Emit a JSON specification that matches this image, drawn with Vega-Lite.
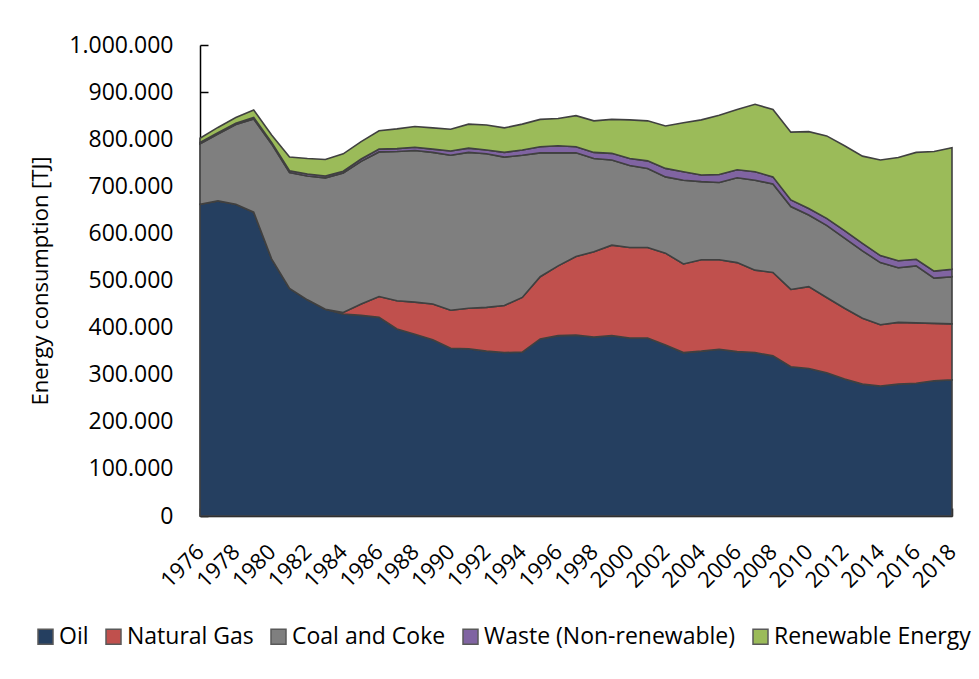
{
  "$schema": "https://vega.github.io/schema/vega-lite/v6.json",
  "width": 752,
  "height": 471,
  "autosize": {"type": "none"},
  "padding": {"left": 200, "top": 45, "right": 27, "bottom": 163},
  "background": "white",
  "config": {
    "locale": {"number": {"decimal": ",", "thousands": ".", "grouping": [3], "currency": ["", " €"]}},
    "font": "Open Sans",
    "view": {"stroke": null},
    "axis": {"grid": false, "domainColor": "black", "domainWidth": 1.5, "tickColor": "black", "tickWidth": 1.5, "labelColor": "black", "titleColor": "black", "labelFont": "Open Sans", "titleFont": "Open Sans"}
  },
  "datasets": {
    "energy": [
      {"year":1976,"source":"Oil","tj":662000},{"year":1976,"source":"Natural Gas","tj":0},{"year":1976,"source":"Coal and Coke","tj":128000},{"year":1976,"source":"Waste (Non-renewable)","tj":3000},{"year":1976,"source":"Renewable Energy","tj":9000},
      {"year":1977,"source":"Oil","tj":669000},{"year":1977,"source":"Natural Gas","tj":0},{"year":1977,"source":"Coal and Coke","tj":142000},{"year":1977,"source":"Waste (Non-renewable)","tj":3000},{"year":1977,"source":"Renewable Energy","tj":11000},
      {"year":1978,"source":"Oil","tj":662000},{"year":1978,"source":"Natural Gas","tj":0},{"year":1978,"source":"Coal and Coke","tj":169000},{"year":1978,"source":"Waste (Non-renewable)","tj":3000},{"year":1978,"source":"Renewable Energy","tj":12000},
      {"year":1979,"source":"Oil","tj":645000},{"year":1979,"source":"Natural Gas","tj":0},{"year":1979,"source":"Coal and Coke","tj":198000},{"year":1979,"source":"Waste (Non-renewable)","tj":3000},{"year":1979,"source":"Renewable Energy","tj":16000},
      {"year":1980,"source":"Oil","tj":546000},{"year":1980,"source":"Natural Gas","tj":0},{"year":1980,"source":"Coal and Coke","tj":244000},{"year":1980,"source":"Waste (Non-renewable)","tj":3000},{"year":1980,"source":"Renewable Energy","tj":16000},
      {"year":1981,"source":"Oil","tj":483000},{"year":1981,"source":"Natural Gas","tj":0},{"year":1981,"source":"Coal and Coke","tj":246000},{"year":1981,"source":"Waste (Non-renewable)","tj":4000},{"year":1981,"source":"Renewable Energy","tj":29000},
      {"year":1982,"source":"Oil","tj":459000},{"year":1982,"source":"Natural Gas","tj":0},{"year":1982,"source":"Coal and Coke","tj":263000},{"year":1982,"source":"Waste (Non-renewable)","tj":4000},{"year":1982,"source":"Renewable Energy","tj":33000},
      {"year":1983,"source":"Oil","tj":439000},{"year":1983,"source":"Natural Gas","tj":0},{"year":1983,"source":"Coal and Coke","tj":279000},{"year":1983,"source":"Waste (Non-renewable)","tj":4000},{"year":1983,"source":"Renewable Energy","tj":35000},
      {"year":1984,"source":"Oil","tj":429000},{"year":1984,"source":"Natural Gas","tj":3000},{"year":1984,"source":"Coal and Coke","tj":296000},{"year":1984,"source":"Waste (Non-renewable)","tj":4000},{"year":1984,"source":"Renewable Energy","tj":37000},
      {"year":1985,"source":"Oil","tj":426000},{"year":1985,"source":"Natural Gas","tj":24000},{"year":1985,"source":"Coal and Coke","tj":303000},{"year":1985,"source":"Waste (Non-renewable)","tj":5000},{"year":1985,"source":"Renewable Energy","tj":37000},
      {"year":1986,"source":"Oil","tj":422000},{"year":1986,"source":"Natural Gas","tj":44000},{"year":1986,"source":"Coal and Coke","tj":307000},{"year":1986,"source":"Waste (Non-renewable)","tj":6000},{"year":1986,"source":"Renewable Energy","tj":39000},
      {"year":1987,"source":"Oil","tj":397000},{"year":1987,"source":"Natural Gas","tj":60000},{"year":1987,"source":"Coal and Coke","tj":317000},{"year":1987,"source":"Waste (Non-renewable)","tj":6000},{"year":1987,"source":"Renewable Energy","tj":42000},
      {"year":1988,"source":"Oil","tj":386000},{"year":1988,"source":"Natural Gas","tj":68000},{"year":1988,"source":"Coal and Coke","tj":322000},{"year":1988,"source":"Waste (Non-renewable)","tj":7000},{"year":1988,"source":"Renewable Energy","tj":44000},
      {"year":1989,"source":"Oil","tj":374000},{"year":1989,"source":"Natural Gas","tj":76000},{"year":1989,"source":"Coal and Coke","tj":322000},{"year":1989,"source":"Waste (Non-renewable)","tj":7000},{"year":1989,"source":"Renewable Energy","tj":45000},
      {"year":1990,"source":"Oil","tj":356000},{"year":1990,"source":"Natural Gas","tj":81000},{"year":1990,"source":"Coal and Coke","tj":329000},{"year":1990,"source":"Waste (Non-renewable)","tj":9000},{"year":1990,"source":"Renewable Energy","tj":46000},
      {"year":1991,"source":"Oil","tj":355000},{"year":1991,"source":"Natural Gas","tj":86000},{"year":1991,"source":"Coal and Coke","tj":331000},{"year":1991,"source":"Waste (Non-renewable)","tj":9000},{"year":1991,"source":"Renewable Energy","tj":51000},
      {"year":1992,"source":"Oil","tj":350000},{"year":1992,"source":"Natural Gas","tj":93000},{"year":1992,"source":"Coal and Coke","tj":326000},{"year":1992,"source":"Waste (Non-renewable)","tj":8000},{"year":1992,"source":"Renewable Energy","tj":53000},
      {"year":1993,"source":"Oil","tj":347000},{"year":1993,"source":"Natural Gas","tj":100000},{"year":1993,"source":"Coal and Coke","tj":315000},{"year":1993,"source":"Waste (Non-renewable)","tj":10000},{"year":1993,"source":"Renewable Energy","tj":52000},
      {"year":1994,"source":"Oil","tj":348000},{"year":1994,"source":"Natural Gas","tj":116000},{"year":1994,"source":"Coal and Coke","tj":302000},{"year":1994,"source":"Waste (Non-renewable)","tj":11000},{"year":1994,"source":"Renewable Energy","tj":55000},
      {"year":1995,"source":"Oil","tj":376000},{"year":1995,"source":"Natural Gas","tj":132000},{"year":1995,"source":"Coal and Coke","tj":263000},{"year":1995,"source":"Waste (Non-renewable)","tj":13000},{"year":1995,"source":"Renewable Energy","tj":58000},
      {"year":1996,"source":"Oil","tj":383000},{"year":1996,"source":"Natural Gas","tj":148000},{"year":1996,"source":"Coal and Coke","tj":240000},{"year":1996,"source":"Waste (Non-renewable)","tj":15000},{"year":1996,"source":"Renewable Energy","tj":58000},
      {"year":1997,"source":"Oil","tj":384000},{"year":1997,"source":"Natural Gas","tj":167000},{"year":1997,"source":"Coal and Coke","tj":220000},{"year":1997,"source":"Waste (Non-renewable)","tj":13000},{"year":1997,"source":"Renewable Energy","tj":66000},
      {"year":1998,"source":"Oil","tj":380000},{"year":1998,"source":"Natural Gas","tj":181000},{"year":1998,"source":"Coal and Coke","tj":198000},{"year":1998,"source":"Waste (Non-renewable)","tj":13000},{"year":1998,"source":"Renewable Energy","tj":67000},
      {"year":1999,"source":"Oil","tj":383000},{"year":1999,"source":"Natural Gas","tj":192000},{"year":1999,"source":"Coal and Coke","tj":181000},{"year":1999,"source":"Waste (Non-renewable)","tj":14000},{"year":1999,"source":"Renewable Energy","tj":72000},
      {"year":2000,"source":"Oil","tj":378000},{"year":2000,"source":"Natural Gas","tj":192000},{"year":2000,"source":"Coal and Coke","tj":174000},{"year":2000,"source":"Waste (Non-renewable)","tj":15000},{"year":2000,"source":"Renewable Energy","tj":82000},
      {"year":2001,"source":"Oil","tj":378000},{"year":2001,"source":"Natural Gas","tj":192000},{"year":2001,"source":"Coal and Coke","tj":168000},{"year":2001,"source":"Waste (Non-renewable)","tj":16000},{"year":2001,"source":"Renewable Energy","tj":85000},
      {"year":2002,"source":"Oil","tj":363000},{"year":2002,"source":"Natural Gas","tj":195000},{"year":2002,"source":"Coal and Coke","tj":162000},{"year":2002,"source":"Waste (Non-renewable)","tj":18000},{"year":2002,"source":"Renewable Energy","tj":90000},
      {"year":2003,"source":"Oil","tj":347000},{"year":2003,"source":"Natural Gas","tj":188000},{"year":2003,"source":"Coal and Coke","tj":178000},{"year":2003,"source":"Waste (Non-renewable)","tj":18000},{"year":2003,"source":"Renewable Energy","tj":104000},
      {"year":2004,"source":"Oil","tj":350000},{"year":2004,"source":"Natural Gas","tj":194000},{"year":2004,"source":"Coal and Coke","tj":166000},{"year":2004,"source":"Waste (Non-renewable)","tj":14000},{"year":2004,"source":"Renewable Energy","tj":117000},
      {"year":2005,"source":"Oil","tj":354000},{"year":2005,"source":"Natural Gas","tj":190000},{"year":2005,"source":"Coal and Coke","tj":164000},{"year":2005,"source":"Waste (Non-renewable)","tj":17000},{"year":2005,"source":"Renewable Energy","tj":126000},
      {"year":2006,"source":"Oil","tj":349000},{"year":2006,"source":"Natural Gas","tj":189000},{"year":2006,"source":"Coal and Coke","tj":180000},{"year":2006,"source":"Waste (Non-renewable)","tj":17000},{"year":2006,"source":"Renewable Energy","tj":128000},
      {"year":2007,"source":"Oil","tj":347000},{"year":2007,"source":"Natural Gas","tj":175000},{"year":2007,"source":"Coal and Coke","tj":191000},{"year":2007,"source":"Waste (Non-renewable)","tj":18000},{"year":2007,"source":"Renewable Energy","tj":143000},
      {"year":2008,"source":"Oil","tj":340000},{"year":2008,"source":"Natural Gas","tj":177000},{"year":2008,"source":"Coal and Coke","tj":188000},{"year":2008,"source":"Waste (Non-renewable)","tj":15000},{"year":2008,"source":"Renewable Energy","tj":143000},
      {"year":2009,"source":"Oil","tj":317000},{"year":2009,"source":"Natural Gas","tj":164000},{"year":2009,"source":"Coal and Coke","tj":176000},{"year":2009,"source":"Waste (Non-renewable)","tj":14000},{"year":2009,"source":"Renewable Energy","tj":144000},
      {"year":2010,"source":"Oil","tj":313000},{"year":2010,"source":"Natural Gas","tj":174000},{"year":2010,"source":"Coal and Coke","tj":152000},{"year":2010,"source":"Waste (Non-renewable)","tj":14000},{"year":2010,"source":"Renewable Energy","tj":163000},
      {"year":2011,"source":"Oil","tj":304000},{"year":2011,"source":"Natural Gas","tj":160000},{"year":2011,"source":"Coal and Coke","tj":153000},{"year":2011,"source":"Waste (Non-renewable)","tj":15000},{"year":2011,"source":"Renewable Energy","tj":175000},
      {"year":2012,"source":"Oil","tj":291000},{"year":2012,"source":"Natural Gas","tj":150000},{"year":2012,"source":"Coal and Coke","tj":149000},{"year":2012,"source":"Waste (Non-renewable)","tj":16000},{"year":2012,"source":"Renewable Energy","tj":180000},
      {"year":2013,"source":"Oil","tj":280000},{"year":2013,"source":"Natural Gas","tj":140000},{"year":2013,"source":"Coal and Coke","tj":143000},{"year":2013,"source":"Waste (Non-renewable)","tj":16000},{"year":2013,"source":"Renewable Energy","tj":185000},
      {"year":2014,"source":"Oil","tj":276000},{"year":2014,"source":"Natural Gas","tj":130000},{"year":2014,"source":"Coal and Coke","tj":132000},{"year":2014,"source":"Waste (Non-renewable)","tj":15000},{"year":2014,"source":"Renewable Energy","tj":203000},
      {"year":2015,"source":"Oil","tj":280000},{"year":2015,"source":"Natural Gas","tj":131000},{"year":2015,"source":"Coal and Coke","tj":116000},{"year":2015,"source":"Waste (Non-renewable)","tj":15000},{"year":2015,"source":"Renewable Energy","tj":219000},
      {"year":2016,"source":"Oil","tj":282000},{"year":2016,"source":"Natural Gas","tj":128000},{"year":2016,"source":"Coal and Coke","tj":121000},{"year":2016,"source":"Waste (Non-renewable)","tj":14000},{"year":2016,"source":"Renewable Energy","tj":227000},
      {"year":2017,"source":"Oil","tj":287000},{"year":2017,"source":"Natural Gas","tj":122000},{"year":2017,"source":"Coal and Coke","tj":96000},{"year":2017,"source":"Waste (Non-renewable)","tj":15000},{"year":2017,"source":"Renewable Energy","tj":254000},
      {"year":2018,"source":"Oil","tj":289000},{"year":2018,"source":"Natural Gas","tj":119000},{"year":2018,"source":"Coal and Coke","tj":100000},{"year":2018,"source":"Waste (Non-renewable)","tj":16000},{"year":2018,"source":"Renewable Energy","tj":258000}
    ]
  },
  "data": {"name": "energy"},
  "transform": [
    {"calculate": "indexof(['Oil', 'Natural Gas', 'Coal and Coke', 'Waste (Non-renewable)', 'Renewable Energy'], datum.source)", "as": "stackRank"}
  ],
  "mark": {"type": "area", "stroke": "#404040", "strokeWidth": 1.6, "fillOpacity": 1, "opacity": 1},
  "encoding": {
    "x": {
      "field": "year", "type": "quantitative",
      "scale": {"domain": [1976, 2018], "nice": false, "zero": false},
      "axis": {
        "title": null,
        "values": [1976,1978,1980,1982,1984,1986,1988,1990,1992,1994,1996,1998,2000,2002,2004,2006,2008,2010,2012,2014,2016,2018],
        "format": "d",
        "tickSize": -8,
        "labelAngle": -45,
        "labelAlign": "right",
        "labelBaseline": "middle",
        "labelPadding": 40,
        "labelFlush": false,
        "labelOverlap": false,
        "labelBound": false,
        "labelFontSize": 22
      }
    },
    "y": {
      "field": "tj", "type": "quantitative", "stack": "zero",
      "scale": {"domain": [0, 1000000], "nice": false},
      "axis": {
        "title": "Energy consumption [TJ]",
        "values": [0,100000,200000,300000,400000,500000,600000,700000,800000,900000,1000000],
        "format": ",d",
        "tickSize": -8,
        "labelPadding": 35,
        "labelFontSize": 23,
        "titleFontSize": 22,
        "titleFontWeight": "normal",
        "titlePadding": 16
      }
    },
    "color": {
      "field": "source", "type": "nominal",
      "sort": ["Oil", "Natural Gas", "Coal and Coke", "Waste (Non-renewable)", "Renewable Energy"],
      "scale": {
        "domain": ["Oil", "Natural Gas", "Coal and Coke", "Waste (Non-renewable)", "Renewable Energy"],
        "range": ["#253F60", "#C0504D", "#7F7F7F", "#8064A2", "#9BBB59"]
      },
      "legend": {
        "title": null,
        "orient": "none",
        "direction": "horizontal",
        "legendX": -166,
        "legendY": 580,
        "symbolType": "square",
        "symbolSize": 225,
        "symbolStrokeColor": "#595959",
        "symbolStrokeWidth": 1.5,
        "symbolOpacity": 1,
        "labelFontSize": 23,
        "labelFont": "Open Sans",
        "labelColor": "black",
        "labelOffset": 2,
        "columnPadding": 13,
        "padding": 0,
        "labelLimit": 400
      }
    },
    "order": {"field": "stackRank", "type": "quantitative", "sort": "ascending"}
  }
}
